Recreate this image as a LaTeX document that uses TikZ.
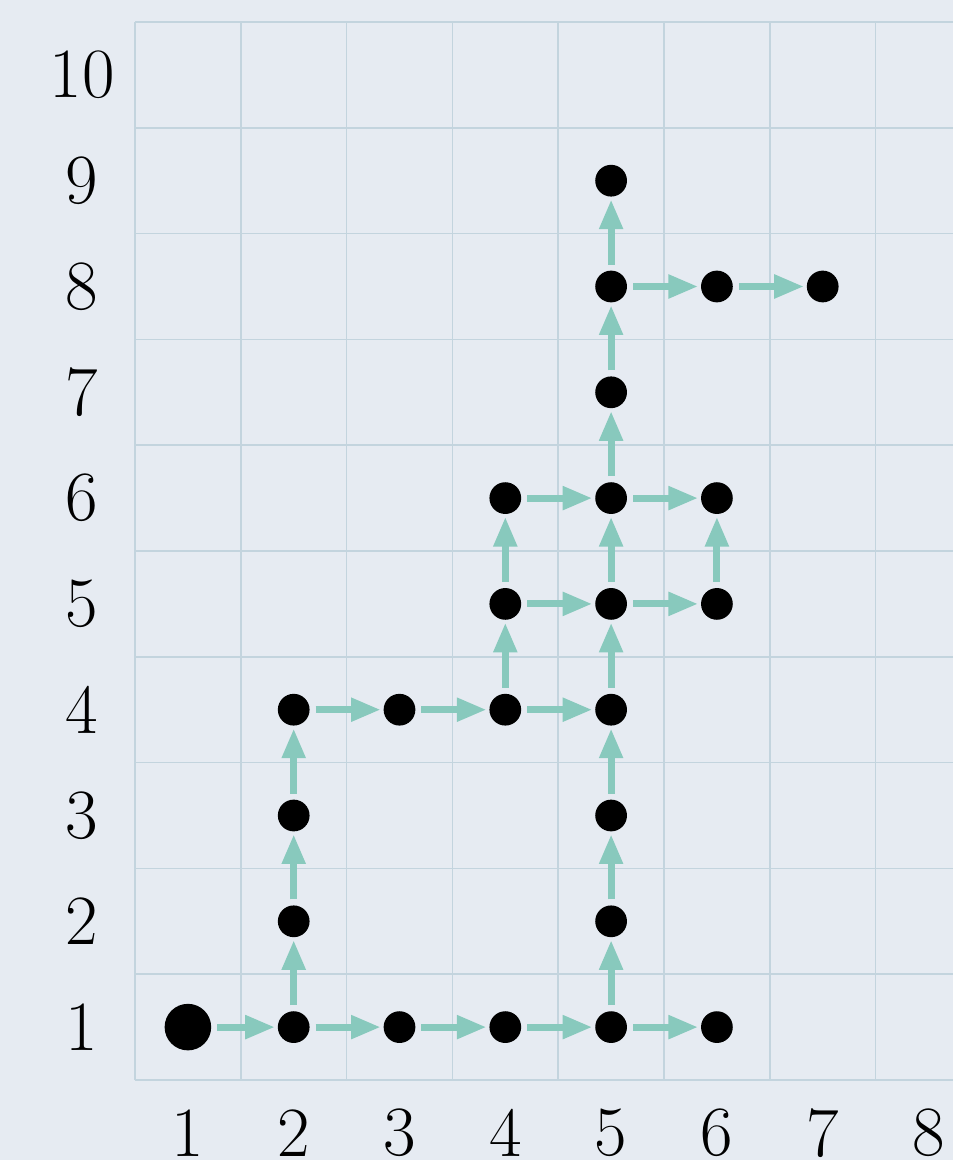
\documentclass[tikz,border=0pt]{standalone}
\usepackage{xcolor}
\usepackage{tikz}
\usetikzlibrary{arrows.meta}
\definecolor{bgcol}{HTML}{E6EBF2}
\definecolor{gridcol}{HTML}{C3D4DE}
\definecolor{movecol}{HTML}{88C9BD}

\begin{document}
\begin{tikzpicture}[>={Triangle[length=8pt,width=6pt]},
    dot/.style={circle, fill=black, inner sep=0pt, minimum size=0.3cm},
    startdot/.style={circle, fill=black, inner sep=0pt, minimum size=0.44cm},
    move/.style={->, movecol, line width=1.9pt, shorten <=0.05cm, shorten >=0.02cm},
    lbl/.style={inner sep=0pt, font=\fontsize{19}{23}\selectfont}]
        \fill[bgcol] (-1.276,-0.756) rectangle (7.73,10.208);
        \useasboundingbox (-1.276,-0.756) rectangle (7.73,10.208);
        \draw[gridcol, line width=0.4pt] (0,0) grid (7.73,10);
        % axis labels
        \foreach \x in {1,...,8}
            \node[lbl] (col\x) at (\x-0.5,-0.5) {\x};
        \foreach \y in {1,...,10}
            \node[lbl] (row\y) at (-0.5,\y-0.5) {\y};
        % visited cells
        \node[startdot] (p-1-1) at (0.5,0.5) {};
        \foreach \x/\y in {2/1, 3/1, 4/1, 5/1, 6/1, 2/2, 2/3, 2/4, 3/4, 4/4, 5/4, 5/2, 5/3,
                           4/5, 5/5, 6/5, 4/6, 5/6, 6/6, 5/7, 5/8, 6/8, 7/8, 5/9}
            \node[dot] (p-\x-\y) at (\x-0.5,\y-0.5) {};
        % moves
        \foreach \a/\b in {1-1/2-1, 2-1/3-1, 3-1/4-1, 4-1/5-1, 5-1/6-1,
                           2-1/2-2, 2-2/2-3, 2-3/2-4, 2-4/3-4, 3-4/4-4, 4-4/5-4,
                           5-1/5-2, 5-2/5-3, 5-3/5-4, 4-4/4-5, 5-4/5-5,
                           4-5/5-5, 5-5/6-5, 4-5/4-6, 5-5/5-6, 6-5/6-6,
                           4-6/5-6, 5-6/6-6, 5-6/5-7, 5-7/5-8, 5-8/5-9,
                           5-8/6-8, 6-8/7-8}
            \draw[move] (p-\a) -- (p-\b);
    \end{tikzpicture}
\end{document}
